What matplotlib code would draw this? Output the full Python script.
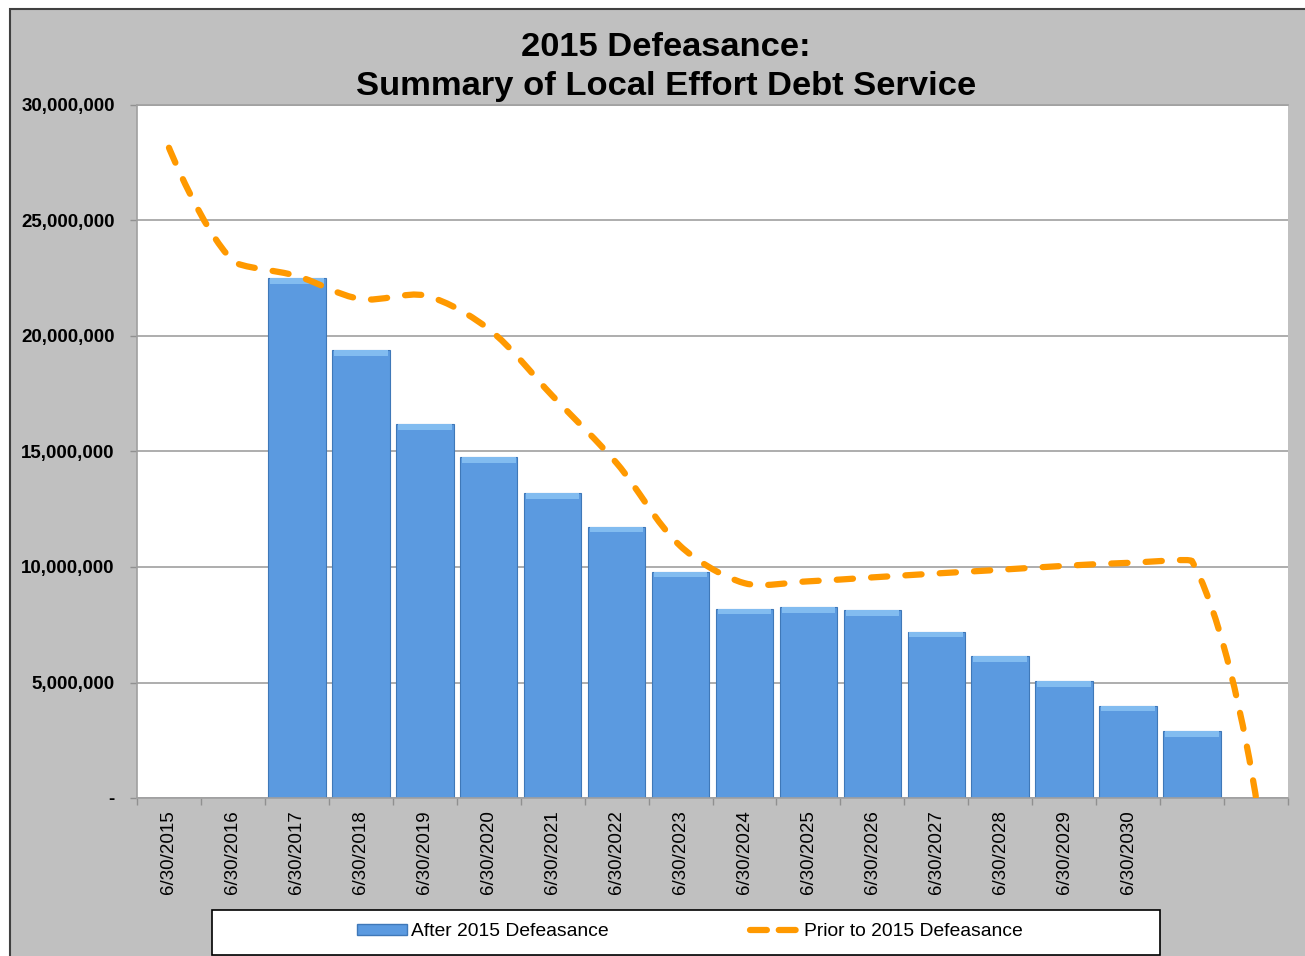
import numpy as np
import matplotlib
matplotlib.use('Agg')
import matplotlib.pyplot as plt
from matplotlib.patches import Rectangle, PathPatch
from matplotlib.path import Path
from matplotlib.lines import Line2D
from matplotlib.ticker import FuncFormatter, FixedLocator

plt.rcParams['font.family'] = ['Liberation Sans', 'DejaVu Sans']

# data
categories = ['6/30/2015', '6/30/2016', '6/30/2017', '6/30/2018', '6/30/2019', '6/30/2020',
              '6/30/2021', '6/30/2022', '6/30/2023', '6/30/2024', '6/30/2025', '6/30/2026',
              '6/30/2027', '6/30/2028', '6/30/2029', '6/30/2030', '', '']
after_2015 = [0, 0, 22.5e6, 19.4e6, 16.2e6, 14.75e6, 13.2e6, 11.75e6, 9.8e6, 8.2e6,
              8.25e6, 8.15e6, 7.2e6, 6.15e6, 5.05e6, 4.0e6, 2.9e6, 0]
prior_2015 = [28.15e6, 23.25e6, 22.6e6, 21.6e6, 21.75e6, 20.3e6, 17.4e6, 14.5e6, 10.9e6, 9.3e6,
              9.38e6, 9.55e6, 9.72e6, 9.88e6, 10.05e6, 10.18e6, 10.25e6, 0]
yticks = [0, 5e6, 10e6, 15e6, 20e6, 25e6, 30e6]

bar_color = '#5b9ae0'
bar_edge = '#3f78b8'
bar_light = '#82bcf0'
line_color = '#ff9900'

fig = plt.figure(figsize=(13.05, 9.56), dpi=100, facecolor='white')
W, H = 1305, 956

# gray chart area with dark border
fig.patches.append(Rectangle((10 / W, -0.1), 1.2, (956 - 9) / H + 0.1, transform=fig.transFigure,
                             facecolor='#c0c0c0', edgecolor='#404040', linewidth=1.5, zorder=-10))

ax = fig.add_axes([137 / W, (956 - 798) / H, (1288 - 137) / W, (798 - 105) / H])
ax.set_zorder(1)
ax.set_facecolor('white')
ax.set_xlim(-0.5, len(categories) - 0.5)
ax.set_ylim(0, 30e6)

x = np.arange(len(categories))
ax.bar(x, after_2015, width=0.9, color=bar_color, edgecolor=bar_edge, linewidth=0.8, zorder=2)
# bevel highlight along the top of each bar
bevel = 0.25e6
tops = np.array(after_2015)
ax.bar(x, np.where(tops > 0, bevel, 0), bottom=tops - bevel, width=0.84, color=bar_light,
       linewidth=0, zorder=2.5)

# smoothed line (Excel style): bezier through the points, handles computed in pixel space
pts = ax.transData.transform(np.column_stack([x, prior_2015]).astype(float))
n = len(pts)
seg = np.hypot(*np.diff(pts, axis=0).T)
verts = [pts[0]]
codes = [Path.MOVETO]
for i in range(n - 1):
    p1, p2 = pts[i], pts[i + 1]
    d = seg[i]
    if i > 0:
        t = pts[i + 1] - pts[i - 1]
        t = t / np.hypot(*t)
        f = min(1.0, 2 * d / (seg[i - 1] + d)) ** 2
        c1 = p1 + t * d / 3 * f
    else:
        c1 = p1
    if i + 2 < n:
        t = pts[i + 2] - pts[i]
        t = t / np.hypot(*t)
        f = min(1.0, 2 * d / (seg[i + 1] + d)) ** 2
        c2 = p2 - t * d / 3 * f
    else:
        c2 = p2
    verts += [c1, c2, p2]
    codes += [Path.CURVE4] * 3
verts = ax.transData.inverted().transform(np.array(verts))
patch = PathPatch(Path(verts, codes), facecolor='none', edgecolor=line_color, linewidth=4.5,
                  linestyle=(0, (2.6, 2.9)), capstyle='round', zorder=3)
ax.add_patch(patch)

ax.set_yticks(yticks)
ax.yaxis.set_major_formatter(FuncFormatter(lambda v, p: '-' if v == 0 else '{:,.0f}'.format(v)))
ax.tick_params(axis='y', length=5, width=1, color='#909090', pad=11, labelsize=13.5)
for lab in ax.get_yticklabels():
    lab.set_fontweight('bold')
ax.grid(axis='y', color='#a0a0a0', linewidth=1.2, zorder=0)
ax.set_axisbelow(True)

ax.set_xticks(x)
ax.set_xticklabels(categories, rotation=90, fontsize=13.5)
ax.tick_params(axis='x', which='major', length=0, pad=9)
ax.xaxis.set_minor_locator(FixedLocator(np.arange(len(categories) + 1) - 0.5))
ax.tick_params(axis='x', which='minor', length=5, width=1, color='#909090')

for s in ['left', 'bottom', 'top']:
    ax.spines[s].set_color('#a0a0a0')
    ax.spines[s].set_linewidth(1.2)
ax.spines['right'].set_visible(False)

fig.text(666 / W, (956 - 67) / H, '2015 Defeasance:\nSummary of Local Effort Debt Service',
         ha='center', va='center', fontsize=24.8, fontweight='bold', linespacing=1.32)

# legend box
fig.patches.append(Rectangle((212 / W, (956 - 955) / H), (1160 - 212) / W, 45 / H,
                             transform=fig.transFigure, facecolor='white', edgecolor='black',
                             linewidth=1.2, zorder=1))
handles = [Rectangle((0, 0), 1, 1, facecolor=bar_color, edgecolor=bar_edge),
           Line2D([], [], color=line_color, linewidth=4.5, linestyle=(0, (2.7, 1.9)),
                  dash_capstyle='round')]
leg = fig.legend(handles, ['After 2015 Defeasance', 'Prior to 2015 Defeasance'], ncol=2,
                 loc='center', bbox_to_anchor=(690 / W, (956 - 932) / H), frameon=False,
                 fontsize=13.9, handlelength=2.55, handleheight=0.45, handletextpad=0.25,
                 columnspacing=7.3)
leg.set_zorder(2)

fig.savefig('out.png', dpi=100, facecolor=fig.get_facecolor())
